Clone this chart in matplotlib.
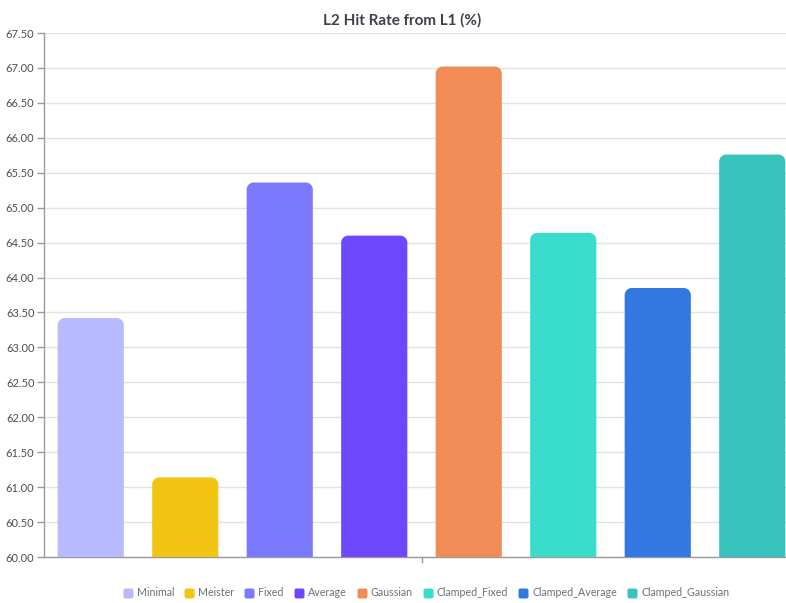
import matplotlib
matplotlib.use("Agg")
import matplotlib.pyplot as plt
from matplotlib.path import Path
from matplotlib.patches import PathPatch
from matplotlib.lines import Line2D

plt.rcParams['font.family'] = ['Lato', 'DejaVu Sans']

series = ["Minimal", "Meister", "Fixed", "Average", "Gaussian",
          "Clamped_Fixed", "Clamped_Average", "Clamped_Gaussian"]
values = [63.42, 61.14, 65.36, 64.60, 67.02, 64.64, 63.85, 65.76]
colors = ["#b8baff", "#f2c414", "#7a7aff", "#6d48ff", "#f28c56",
          "#3adccb", "#3179e0", "#35c3bb"]
y_ticks = [60.0 + 0.5 * i for i in range(16)]
title = "L2 Hit Rate from L1 (%)"

W, H = 786, 603
fig = plt.figure(figsize=(W / 100, H / 100), dpi=100)
ax = fig.add_axes([43.5 / W, (H - 557) / H, 756 / W, 524 / H])

ax.set_xlim(-0.5, len(series) - 0.5)
ax.set_ylim(60.0, 67.5)

bars = ax.bar(range(len(series)), [v - 60.0 for v in values], bottom=60.0,
              width=0.70, color=colors)

K = 0.5523


def rounded_top(x0, y0, w, h, rx, ry):
    x1, y1 = x0 + w, y0 + h
    verts = [(x0, y0), (x0, y1 - ry),
             (x0, y1 - ry + K * ry), (x0 + rx - K * rx, y1), (x0 + rx, y1),
             (x1 - rx, y1),
             (x1 - rx + K * rx, y1), (x1, y1 - ry + K * ry), (x1, y1 - ry),
             (x1, y0), (x0, y0)]
    codes = [Path.MOVETO, Path.LINETO,
             Path.CURVE4, Path.CURVE4, Path.CURVE4,
             Path.LINETO,
             Path.CURVE4, Path.CURVE4, Path.CURVE4,
             Path.LINETO, Path.CLOSEPOLY]
    return Path(verts, codes)


def rounded_square(r):
    # square from -1..1 with all four corners rounded
    pts = [(-1 + r, -1), (1 - r, -1),
           (1 - r + K * r, -1), (1, -1 + r - K * r), (1, -1 + r),
           (1, 1 - r),
           (1, 1 - r + K * r), (1 - r + K * r, 1), (1 - r, 1),
           (-1 + r, 1),
           (-1 + r - K * r, 1), (-1, 1 - r + K * r), (-1, 1 - r),
           (-1, -1 + r),
           (-1, -1 + r - K * r), (-1 + r - K * r, -1), (-1 + r, -1),
           (-1 + r, -1)]
    codes = ([Path.MOVETO, Path.LINETO] + [Path.CURVE4] * 3 + [Path.LINETO]
             + [Path.CURVE4] * 3 + [Path.LINETO] + [Path.CURVE4] * 3
             + [Path.LINETO] + [Path.CURVE4] * 3 + [Path.CLOSEPOLY])
    return Path(pts, codes)


# replace square bars with rounded-top shapes (radius ~7 px)
px_x = (ax.get_xlim()[1] - ax.get_xlim()[0]) / 756
px_y = (ax.get_ylim()[1] - ax.get_ylim()[0]) / 524
for rect, c in zip(bars, colors):
    rect.set_visible(False)
    p = rounded_top(rect.get_x(), rect.get_y(), rect.get_width(),
                    rect.get_height(), 7 * px_x, 7 * px_y)
    ax.add_patch(PathPatch(p, facecolor=c, edgecolor='none', zorder=3))

ax.set_yticks(y_ticks)
ax.set_yticklabels([f"{t:.2f}" for t in y_ticks])
ax.set_xticks([(len(series) - 1) / 2])
ax.set_xticklabels([""])
ax.grid(axis='y', color='#e3e3e3', linewidth=1, zorder=0)
ax.set_axisbelow(True)
for s in ['top', 'right']:
    ax.spines[s].set_visible(False)
for s in ['left', 'bottom']:
    ax.spines[s].set_color('#9a9a9a')
    ax.spines[s].set_linewidth(1)
ax.tick_params(axis='y', length=5, width=1, color='#9a9a9a', pad=1.5,
               labelsize=8, labelcolor='#4a4f55')
ax.tick_params(axis='x', length=4, width=1, color='#9a9a9a')

fig.text(402 / W, 1 - 20 / H, title, ha='center', va='center',
         fontsize=11, fontweight='bold', color='#3d4149')

marker = rounded_square(0.4)
handles = [Line2D([], [], marker=marker, linestyle='none', markersize=7.2,
                  markerfacecolor=c, markeredgecolor='none') for c in colors]
fig.legend(handles, series, loc='center', bbox_to_anchor=(426 / W, 1 - 593 / H),
           ncol=len(series), frameon=False, fontsize=7.7,
           handlelength=0.9, handletextpad=0.4, columnspacing=0.95,
           labelcolor='#6b7079')

fig.savefig("out.png", dpi=100)
